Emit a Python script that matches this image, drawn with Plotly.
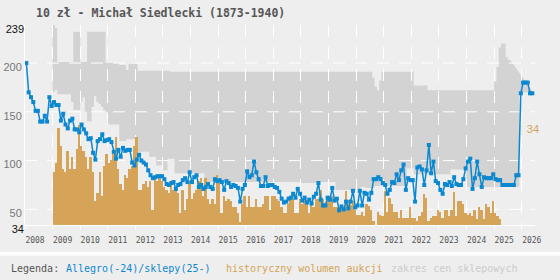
import plotly.graph_objects as go

# ---------------- data ----------------
# monthly price Allegro/shops, from Jan 2008
price = [200, 170, 165, 160, 151, 151, 140, 140, 146, 140,
         165, 156, 160, 157, 157, 141, 148, 137, 133, 141,
         143, 132, 132, 129, 137, 132, 128, 122, 123, 108,
         101, 120, 122, 127, 120, 121, 122, 119, 109, 102,
         111, 104, 113, 110, 111, 111, 98, 95, 101, 106,
         100, 98, 96, 90, 85, 82, 83, 84, 84, 84,
         81, 76, 75, 77, 78, 71, 75, 76, 80, 82,
         78, 88, 78, 83, 85, 73, 75, 71, 73, 76,
         73, 71, 81, 79, 80, 78, 70, 79, 77, 73,
         75, 74, 72, 58, 71, 75, 89, 83, 85, 99,
         88, 81, 74, 74, 83, 74, 75, 75, 73, 72,
         68, 61, 57, 58, 61, 62, 66, 62, 71, 66,
         59, 62, 57, 60, 56, 63, 66, 77, 60, 54,
         54, 62, 60, 72, 59, 61, 49, 53, 50, 58,
         51, 58, 69, 52, 54, 69, 54, 67, 66, 60,
         67, 81, 81, 83, 81, 77, 75, 66, 70, 78,
         77, 86, 80, 90, 96, 70, 82, 80, 80, 58,
         93, 94, 91, 75, 90, 116, 87, 99, 79, 77,
         70, 66, 76, 75, 78, 74, 83, 76, 75, 75,
         81, 92, 99, 102, 71, 82, 99, 86, 73, 83,
         82, 82, 82, 86, 81, 80, 80, 75, 75, 75,
         75, 75, 75, 85, 85, 169, 180, 180, 180, 169, 169]

# monthly shop price range, from Jan 2009
shop_high = [239, 236, 201, 201, 201, 201, 201, 201, 201, 232,
             232, 232, 201, 201, 201, 232, 232, 232, 232, 232,
             232, 232, 232, 200, 200, 200, 200, 200, 200, 198,
             198, 198, 193, 199, 199, 199, 199, 192, 192, 192,
             192, 192, 192, 192, 192, 192, 192, 192, 192, 192,
             192, 191, 191, 191, 191, 191, 191, 191, 191, 191,
             191, 191, 191, 191, 191, 191, 191, 191, 191, 191,
             191, 191, 191, 191, 191, 191, 191, 191, 191, 191,
             191, 191, 191, 191, 191, 191, 191, 191, 191, 191,
             191, 191, 191, 191, 191, 191, 191, 191, 191, 191,
             191, 191, 191, 191, 191, 191, 191, 191, 191, 191,
             191, 191, 191, 191, 191, 191, 191, 191, 191, 191,
             191, 191, 191, 191, 191, 191, 191, 191, 191, 191,
             191, 191, 191, 191, 191, 191, 191, 191, 191, 185,
             176, 172, 182, 191, 191, 191, 191, 191, 191, 191,
             191, 191, 191, 191, 191, 191, 191, 177, 177, 177,
             177, 177, 177, 172, 172, 172, 172, 172, 172, 172,
             172, 172, 172, 172, 172, 172, 172, 172, 172, 172,
             172, 172, 172, 172, 172, 172, 172, 172, 172, 172,
             172, 172, 181, 196, 216, 220, 220, 206, 203]

shop_low = [170, 172, 168, 168, 168, 168, 168, 168, 160, 152,
            152, 152, 160, 165, 150, 140, 140, 155, 166, 160,
            158, 155, 152, 150, 137, 137, 137, 137, 137, 120,
            120, 120, 122, 122, 122, 122, 109, 109, 109, 109,
            109, 109, 104, 104, 104, 95, 95, 95, 90, 90,
            102, 102, 102, 87, 87, 87, 87, 87, 87, 87,
            87, 87, 87, 87, 87, 87, 78, 78, 78, 78,
            78, 78, 78, 78, 78, 78, 78, 78, 78, 78,
            78, 78, 78, 78, 78, 78, 78, 78, 78, 78,
            78, 78, 78, 78, 78, 78, 78, 78, 78, 78,
            78, 78, 78, 78, 78, 78, 78, 78, 77, 77,
            77, 77, 77, 77, 77, 77, 78, 78, 78, 78,
            78, 78, 78, 70, 70, 70, 70, 70, 70, 70,
            70, 70, 70, 70, 73, 73, 72, 72, 72, 72,
            74, 74, 74, 74, 74, 74, 74, 74, 74, 74,
            74, 74, 74, 74, 92, 92, 92, 86, 86, 86,
            86, 86, 86, 86, 86, 86, 86, 86, 86, 86,
            86, 86, 86, 91, 91, 91, 91, 91, 91, 91,
            73, 73, 73, 73, 73, 73, 73, 73, 73, 73,
            73, 73, 73, 73, 73, 73, 73, 73, 73, 73,
            73, 73, 73, 170, 170, 170, 170, 170, 170]

# historical monthly auction volume, from Jan 2009
volume = [18, 21, 33, 27, 19, 18, 25, 19, 23, 19,
          26, 34, 27, 25, 23, 19, 23, 18, 8, 11,
          18, 10, 20, 24, 21, 22, 24, 30, 19, 14,
          12, 17, 16, 19,
          20, 27, 30, 12, 12, 14, 15, 13, 15, 5,
          16, 15, 16, 15, 13, 12, 11, 15, 12, 12,
          11, 4, 12, 5, 9, 15, 9, 11, 12, 15,
          16, 10, 16, 9, 7, 9, 7, 17, 15, 4,
          10, 8, 9, 8, 6,
          6, 4, 1, 7, 10, 6, 10, 6, 6, 9,
          6, 6, 7, 10, 10, 5, 10, 10, 9, 8,
          6, 4, 4, 7, 9, 9, 4, 4, 9, 7,
          10, 7, 4, 8, 6, 9, 9, 12, 9, 7,
          10, 10, 10, 6, 6, 6,
          6, 6, 11.5, 8.4, 6.9, 8, 5, 3.5, 3.5, 4.3,
          3, 7.3, 6.4, 5.2, 1.2, 0, 4.3, 3.5, 3, 11.5,
          4.3, 9.2, 7.3, 4.3, 4.3, 2.4, 5.2, 2.4, 2.4, 2.4,
          6.2, 2.4, 2.4, 1.3, 3, 4.3, 10.4, 9.2, 1.3, 2.4,
          3.2, 3.2, 5.2, 4.3, 2.4, 5.2,
          5.2, 3, 5.2, 11.3, 3, 8.2, 8.2, 7.1, 4.1, 3.4,
          4.1, 3, 5.2, 2.2, 6.2, 5.2, 2.2, 7.1, 6.2, 4.1,
          8.2, 4.1, 3, 2.2]

year_ticks = list(range(2008, 2027))
year_labels = [str(y) for y in year_ticks]
grid_price_ticks = [50, 100, 150, 200]
edge_price_ticks = [34, 239]
volume_tick = [34]

# ---------------- styling ----------------
BG = "#eeeeee"
BAND = "#d3d3d3"
ORANGE = "#d5a458"
BLUE = "#0b88cf"
GRID_DASH = "12px,10px"
X_RANGE = [2008.0, 2026.48]
P_RANGE = [34, 239]

price_x = [2008 + (i + 0.6) / 12 for i in range(len(price))]
bar_x = [2009 + (i + 0.5) / 12 for i in range(len(volume))]
band_x = [2009 + i / 12 for i in range(len(shop_low) + 1)]
band_lo = shop_low + shop_low[-1:]
band_hi = shop_high + shop_high[-1:]

fig = go.Figure()
fig.add_trace(go.Scatter(x=band_x, y=band_lo, mode="lines",
                         line=dict(width=0, shape="hv"),
                         xaxis="x", yaxis="y", hoverinfo="skip"))
fig.add_trace(go.Scatter(x=band_x, y=band_hi, mode="lines",
                         line=dict(width=0, shape="hv"), fill="tonexty",
                         fillcolor=BAND, xaxis="x", yaxis="y", hoverinfo="skip"))
# anchor trace so that the grid subplot (x2, y2) exists
fig.add_trace(go.Scatter(x=[None], y=[None], mode="lines", xaxis="x2", yaxis="y2",
                         hoverinfo="skip"))
fig.add_trace(go.Bar(x=bar_x, y=volume, width=1 / 12,
                     marker=dict(color=ORANGE, line=dict(width=0)),
                     xaxis="x2", yaxis="y3"))
fig.add_trace(go.Scatter(x=price_x, y=price, mode="lines+markers",
                         line=dict(color=BLUE, width=1.5),
                         marker=dict(symbol="square", size=4, color=BLUE),
                         xaxis="x2", yaxis="y4"))

mono = "DejaVu Sans Mono"
sans = "Liberation Sans"

fig.update_layout(
    width=560, height=280, autosize=False,
    margin=dict(l=25, r=25, t=25, b=55, autoexpand=False),
    paper_bgcolor=BG, plot_bgcolor="rgba(0,0,0,0)",
    showlegend=False, bargap=0,
    xaxis=dict(domain=[0, 1], range=X_RANGE, visible=False, automargin=False),
    yaxis=dict(domain=[0, 1], range=P_RANGE, visible=False, automargin=False),
    xaxis2=dict(domain=[0, 1], range=X_RANGE, anchor="y2", automargin=False,
                tickmode="array", tickvals=year_ticks, ticktext=year_labels,
                showgrid=True, gridcolor="white", gridwidth=1, griddash=GRID_DASH,
                ticks="outside", ticklen=3, tickcolor="white", tickwidth=1,
                showline=True, linecolor="white", linewidth=1, zeroline=False,
                tickfont=dict(family=mono, size=8, color="#555555"),
                ticklabelshift=10, ticklabelstandoff=4),
    yaxis2=dict(domain=[0, 1], range=P_RANGE, anchor="x2", automargin=False,
                tickmode="array", tickvals=grid_price_ticks,
                ticktext=[str(v) for v in grid_price_ticks],
                showgrid=False,
                showline=True, linecolor="white", linewidth=1, zeroline=False,
                ticks="", tickfont=dict(family=sans, size=11, color="#777777"),
                ticklabelshift=4),
    yaxis3=dict(overlaying="y2", range=[0, 68], anchor="free", position=0.982,
                side="right", automargin=False, tickmode="array", tickvals=volume_tick,
                ticktext=[str(v) for v in volume_tick], showgrid=False,
                showline=False, zeroline=False, ticks="",
                tickfont=dict(family=sans, size=11, color=ORANGE),
                ticklabelshift=4),
    yaxis4=dict(overlaying="y2", range=P_RANGE, anchor="x2", side="left",
                automargin=False, tickmode="array", tickvals=edge_price_ticks,
                ticktext=[str(v) for v in edge_price_ticks], showgrid=False,
                showline=False, zeroline=False, ticks="",
                tickfont=dict(family=sans, size=11, color="#111111"),
                ticklabelshift=4),
)

# horizontal price gridlines in the (x2, y2) subplot: over the shop band,
# under the bars and the price line
for v in grid_price_ticks:
    fig.add_shape(type="line", xref="x2", yref="y2", x0=X_RANGE[0], x1=X_RANGE[1],
                  y0=v, y1=v, line=dict(color="white", width=1, dash=GRID_DASH),
                  layer="below")

def px_x(p):
    return (p - 25) / 510.0

def px_y(p):
    return (225 - p) / 200.0

fig.add_annotation(text="<b>10 zł - Michał Siedlecki (1873-1940)</b>",
                   xref="paper", yref="paper", x=px_x(160.5), y=px_y(12.5),
                   xanchor="center", yanchor="middle", showarrow=False,
                   font=dict(family=mono, size=11.5, color="#555555"))

legend_parts = [("Legenda:", "#555555", 9),
                ("Allegro(-24)/sklepy(25-)", BLUE, 64),
                ("historyczny wolumen aukcji", ORANGE, 224),
                ("zakres cen sklepowych", "#cccccc", 389)]
for txt, col, left in legend_parts:
    fig.add_annotation(text=txt, xref="paper", yref="paper",
                       x=px_x(left), y=px_y(268), xanchor="left", yanchor="middle",
                       showarrow=False, font=dict(family=mono, size=10, color=col))

fig.add_shape(type="rect", xref="paper", yref="paper",
              x0=px_x(0), x1=px_x(560), y0=px_y(255.5), y1=px_y(252),
              fillcolor="white", line=dict(width=0), layer="below")

fig.write_html("out.html")
